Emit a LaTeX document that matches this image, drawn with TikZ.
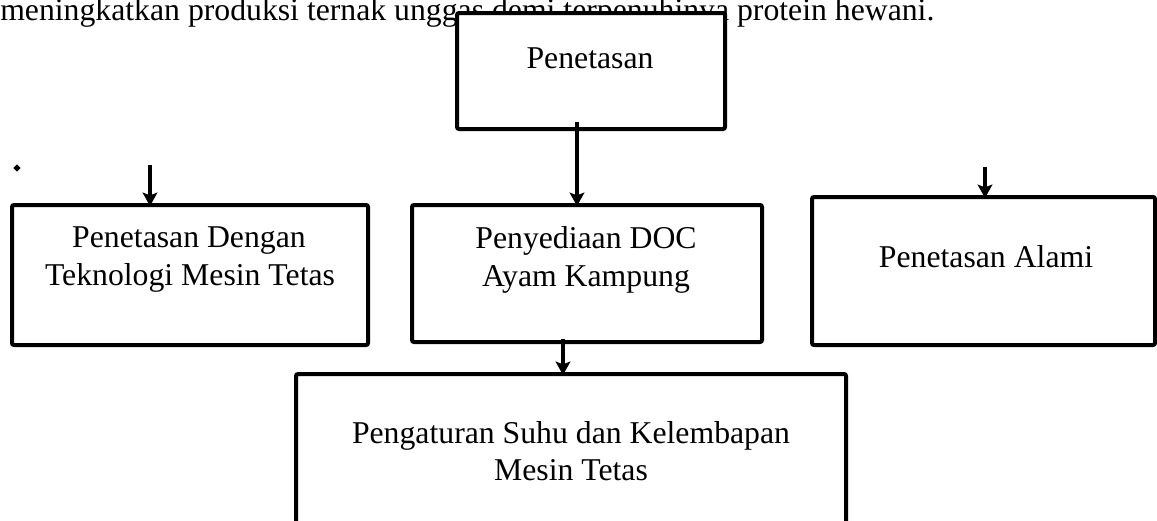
\documentclass[tikz,border=0pt]{standalone}
\usepackage{fontspec}
\setmainfont{Liberation Serif}
\usetikzlibrary{arrows.meta,fit,shapes.geometric}
\begin{document}
\begin{tikzpicture}[x=0.75pt,y=-0.75pt,
  box/.style={draw, line width=3pt, fill=white, rounded corners=1.5pt, inner sep=0pt},
  txt/.style={anchor=base, inner sep=0pt, font=\fontsize{23.8}{28}\selectfont},
  arr/.style={line width=3pt, -{Stealth[length=10pt,width=11pt,inset=2pt]}}]
\useasboundingbox (0,0) rectangle (1157,521);
\clip (0,0) rectangle (1157,521);
\fill[white] (0,0) rectangle (1157,521);
% running text behind the top box
\node[txt, anchor=base west] (intro) at (0,20) {meningkatkan produksi ternak unggas demi terpenuhinya protein hewani.};
% boxes
\node[box, fit={(457,13) (725,129)}] (pen) {};
\node[box, fit={(12,205) (368,345)}] (tek) {};
\node[box, fit={(412,205) (762,342)}] (doc) {};
\node[box, fit={(812,197) (1155,345)}] (alami) {};
\node[box, fit={(296,374) (846,560)}] (suhu) {};
% texts
\node[txt] (penT) at (590,68) {Penetasan};
\node[txt] (tekA) at (189,247) {Penetasan Dengan};
\node[txt] (tekB) at (190,285) {Teknologi Mesin Tetas};
\node[txt] (docA) at (586,248) {Penyediaan DOC};
\node[txt] (docB) at (586,286) {Ayam Kampung};
\node[txt] (alamiT) at (986,267) {Penetasan Alami};
\node[txt] (suhuA) at (571,443) {Pengaturan Suhu dan Kelembapan};
\node[txt] (suhuB) at (571,480) {Mesin Tetas};
% stray mark
\node[diamond, fill, inner sep=0pt, minimum size=5.5pt] (dot) at (17,168) {};
% connectors
\coordinate (s1) at (150,165);
\coordinate (s2) at (985,167);
\coordinate (s3) at ([xshift=-10.5pt,yshift=6.75pt]pen.south);
\coordinate (s4) at ([xshift=-18pt,yshift=3.75pt]doc.south);
\draw[arr] (s1) -- ([yshift=-2.25pt]s1 |- tek.north);
\draw[arr] (s2) -- ([yshift=-2.25pt]s2 |- alami.north);
\draw[arr] (s3) -- ([yshift=-2.25pt]s3 |- doc.north);
\draw[arr] (s4) -- ([yshift=-2.25pt]s4 |- suhu.north);
\end{tikzpicture}
\end{document}
